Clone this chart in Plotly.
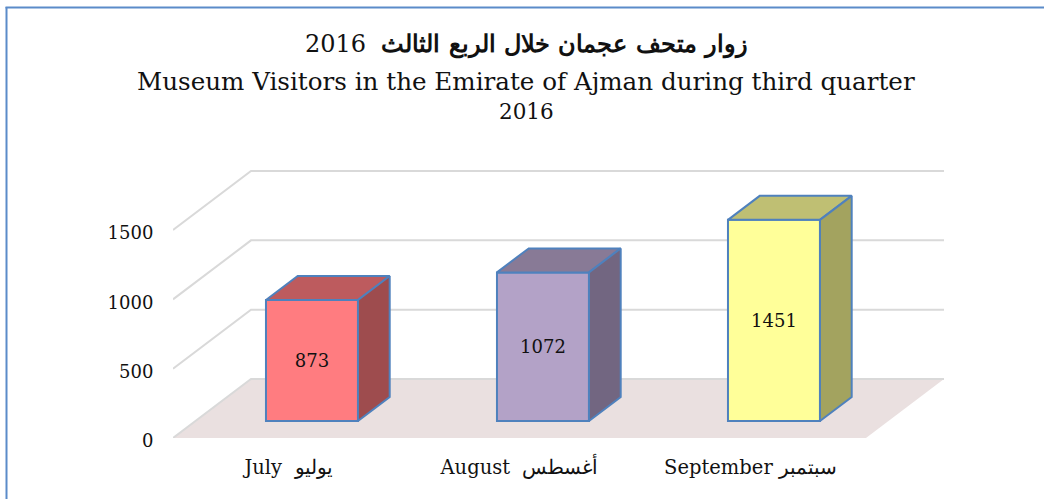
import plotly.graph_objects as go

# ---- data ----
categories = ["July  يوليو", "August  أغسطس", "September سبتمبر"]
visitors = [873, 1072, 1451]
tick_values = [0, 500, 1000, 1500]
title_lines = ["<b>زوار متحف عجمان خلال الربع الثالث</b>  2016",
               "Museum Visitors in the Emirate of Ajman during third quarter",
               "2016"]
front_colors = ["#ff7c80", "#b3a2c7", "#ffff99"]
top_colors = ["#bd5b5e", "#887a96", "#bfbf73"]
side_colors = ["#9e4c4e", "#726681", "#a3a35f"]

# ---- layout geometry ----
W, H = 1044, 499
ML, MR, MT, MB = 173, W - 946, 170, H - 438
CAT_PX = 231.0
PX_PER_UNIT = 0.13863
X_RANGE = [-0.5, -0.5 + (W - ML - MR) / CAT_PX]
Y_RANGE = [0, (H - MT - MB) / PX_PER_UNIT]
# oblique projection of the depth axis, in data units
DEPTH_X = 78 / CAT_PX
DEPTH_Y = 59 / PX_PER_UNIT
BAR_NEAR = 17 / 59
BAR_FAR = 41 / 59
BAR_SHIFT = 1 / CAT_PX
BAR_W = 92 / CAT_PX
FONT = "DejaVu Serif"
BORDER = "#4f81bd"
FRAME = "#5b8bc9"

x_cats = list(range(len(categories)))
fig = go.Figure()

# floor
x0, x1 = -0.5, len(categories) - 0.5
fig.add_trace(go.Scatter(
    x=[x0, x0 + DEPTH_X, x1 + DEPTH_X, x1, x0],
    y=[0, DEPTH_Y, DEPTH_Y, 0, 0],
    mode="lines", fill="toself", fillcolor="#eae0e0",
    line=dict(width=0), hoverinfo="skip", showlegend=False, cliponaxis=False))

# grid lines on side and back walls
for v in tick_values:
    fig.add_trace(go.Scatter(
        x=[x0, x0 + DEPTH_X, x1 + DEPTH_X],
        y=[v, v + DEPTH_Y, v + DEPTH_Y],
        mode="lines", line=dict(color="#d9d9d9", width=2),
        hoverinfo="skip", showlegend=False, cliponaxis=False))

fig.update_layout(
    xaxis=dict(range=X_RANGE, tickmode="array", tickvals=x_cats, ticktext=categories,
               showgrid=False, zeroline=False, showline=False, ticks="outside",
               ticklen=12, tickcolor="rgba(0,0,0,0)",
               tickfont=dict(family=FONT, size=19.5, color="#111111")),
    yaxis=dict(range=Y_RANGE, tickmode="array", tickvals=tick_values,
               showgrid=False, zeroline=False, showline=False, ticks="outside",
               ticklen=15, tickcolor="rgba(0,0,0,0)", ticklabelshift=3,
               tickfont=dict(family=FONT, size=18, color="#111111")),
    xaxis2=dict(range=X_RANGE, overlaying="x", visible=False),
    yaxis2=dict(range=Y_RANGE, overlaying="y", visible=False),
)

# bar fronts on an overlay so that they hide the grid
near_x = [i + BAR_NEAR * DEPTH_X + BAR_SHIFT for i in x_cats]
near_y = BAR_NEAR * DEPTH_Y
fig.add_trace(go.Bar(
    x=near_x, y=visitors, base=[near_y] * len(visitors), width=BAR_W,
    xaxis="x2", yaxis="y2",
    marker=dict(color=front_colors, line=dict(color=BORDER, width=2)),
    text=[str(v) for v in visitors], textposition="inside",
    insidetextanchor="middle", textangle=0,
    textfont=dict(family=FONT, size=18, color="#111111"),
    showlegend=False, hoverinfo="skip"))

# top and side faces
d_x = (BAR_FAR - BAR_NEAR) * DEPTH_X
d_y = (BAR_FAR - BAR_NEAR) * DEPTH_Y
for cx, v, tc, sc in zip(near_x, visitors, top_colors, side_colors):
    l, r = cx - BAR_W / 2, cx + BAR_W / 2
    b, t = near_y, near_y + v
    fig.add_trace(go.Scatter(
        x=[l, l + d_x, r + d_x, r, l], y=[t, t + d_y, t + d_y, t, t],
        xaxis="x2", yaxis="y2", mode="lines", fill="toself", fillcolor=tc,
        line=dict(color=BORDER, width=2), hoverinfo="skip",
        showlegend=False, cliponaxis=False))
    fig.add_trace(go.Scatter(
        x=[r, r + d_x, r + d_x, r, r], y=[b, b + d_y, t + d_y, t, b],
        xaxis="x2", yaxis="y2", mode="lines", fill="toself", fillcolor=sc,
        line=dict(color=BORDER, width=2), hoverinfo="skip",
        showlegend=False, cliponaxis=False))

# paper coordinates helpers for the frame and the title
plot_w, plot_h = W - ML - MR, H - MT - MB
px = lambda p: (p - ML) / plot_w
py = lambda p: (H - MB - p) / plot_h

title_y = [44, 81, 111]
title_size = [24, 24.6, 21.5]
annotations = [dict(text=s, xref="paper", yref="paper", x=px(526), y=py(y),
                    xanchor="center", yanchor="middle", showarrow=False,
                    font=dict(family=FONT, size=z, color="#111111"))
               for s, y, z in zip(title_lines, title_y, title_size)]

frame_line = dict(color=FRAME, width=2)
shapes = [
    dict(type="line", xref="paper", yref="paper", x0=px(5.5), x1=px(W), y0=py(7.5), y1=py(7.5), line=frame_line),
    dict(type="line", xref="paper", yref="paper", x0=px(6.5), x1=px(6.5), y0=py(7), y1=py(H), line=frame_line),
]

fig.update_layout(
    width=W, height=H, margin=dict(l=ML, r=MR, t=MT, b=MB, pad=0),
    paper_bgcolor="white", plot_bgcolor="rgba(0,0,0,0)",
    showlegend=False, annotations=annotations, shapes=shapes, barmode="overlay",
)

fig.write_html("out.html", config={"displayModeBar": False},
               post_script="document.body.style.margin='0';document.body.style.overflow='hidden';")
